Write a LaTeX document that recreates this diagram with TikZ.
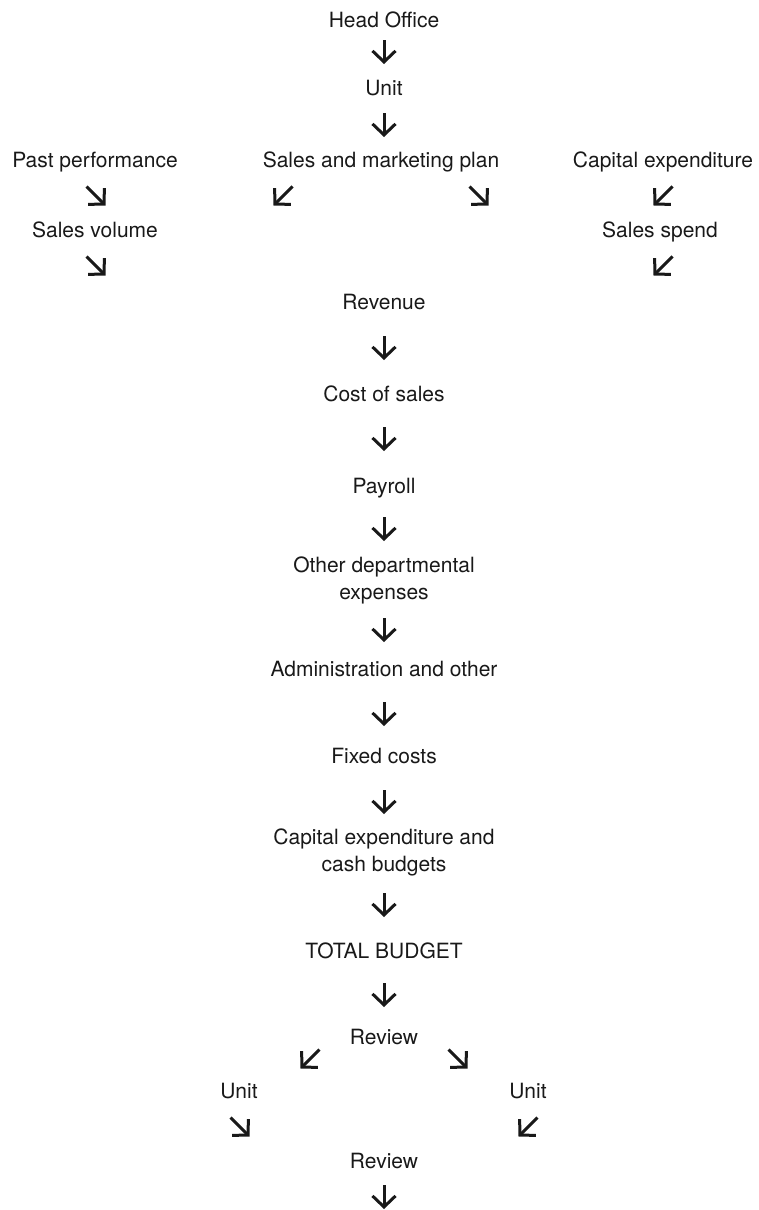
\documentclass[tikz,border=0pt]{standalone}
\usepackage{fontspec}
\setmainfont{TeX Gyre Heros}
\usetikzlibrary{arrows.meta}
\tikzset{
  lbl/.style={anchor=base, inner sep=0pt, align=center, font=\fontsize{21}{27}\selectfont, text=black!90},
  arr/.style={line width=3pt, -{Straight Barb[length=11pt,width=23pt]}, black!90}
}
\newcommand\varr[3]{\coordinate (#1s) at (#2,#3-12); \coordinate (#1e) at (#2,#3+12); \draw[arr] (#1s) -- (#1e);}
\newcommand\serr[3]{\coordinate (#1s) at (#2-9.5,#3-9.5); \coordinate (#1e) at (#2+9.5,#3+9.5); \draw[arr] (#1s) -- (#1e);}
\newcommand\swarr[3]{\coordinate (#1s) at (#2+9.5,#3-9.5); \coordinate (#1e) at (#2-9.5,#3+9.5); \draw[arr] (#1s) -- (#1e);}
\begin{document}
\begin{tikzpicture}[x=1pt,y=-1pt]
\useasboundingbox (0,0) rectangle (758,1210);
\node[lbl] (head) at (384,27) {Head Office};
\varr{a1}{384}{52}
\node[lbl] (unit) at (384,95) {Unit};
\varr{a2}{384}{125}
\node[lbl] (past) at (95,167) {Past performance};
\node[lbl] (smp) at (381,167) {Sales and marketing plan};
\node[lbl] (capex) at (663,167) {Capital expenditure};
\serr{b1}{96}{196}
\swarr{b2}{283}{196}
\serr{b3}{479}{196}
\swarr{b4}{663}{196}
\node[lbl] (svol) at (95,237) {Sales volume};
\node[lbl] (sspend) at (660,237) {Sales spend};
\serr{c1}{96}{266}
\swarr{c2}{663}{266}
\node[lbl] (rev) at (384,309) {Revenue};
\varr{a3}{384}{348}
\node[lbl] (cos) at (384,401) {Cost of sales};
\varr{a4}{384}{439}
\node[lbl] (pay) at (384,493) {Payroll};
\varr{a5}{384}{529}
\node[lbl] (ode) at (384,599) {Other departmental\\expenses};
\varr{a6}{384}{630}
\node[lbl] (adm) at (384,676) {Administration and other};
\varr{a7}{384}{714}
\node[lbl] (fix) at (384,763) {Fixed costs};
\varr{a8}{384}{802}
\node[lbl] (ccb) at (384,871) {Capital expenditure and\\cash budgets};
\varr{a9}{384}{905}
\node[lbl] (tot) at (384,958) {TOTAL BUDGET};
\varr{a10}{384}{995}
\node[lbl] (rev1) at (384,1044) {Review};
\swarr{d1}{310}{1059}
\serr{d2}{458}{1059}
\node[lbl] (unitl) at (239,1098) {Unit};
\node[lbl] (unitr) at (528,1098) {Unit};
\serr{e1}{240}{1127}
\swarr{e2}{528}{1127}
\node[lbl] (rev2) at (384,1168) {Review};
\varr{a11}{384}{1197}
\end{tikzpicture}
\end{document}
